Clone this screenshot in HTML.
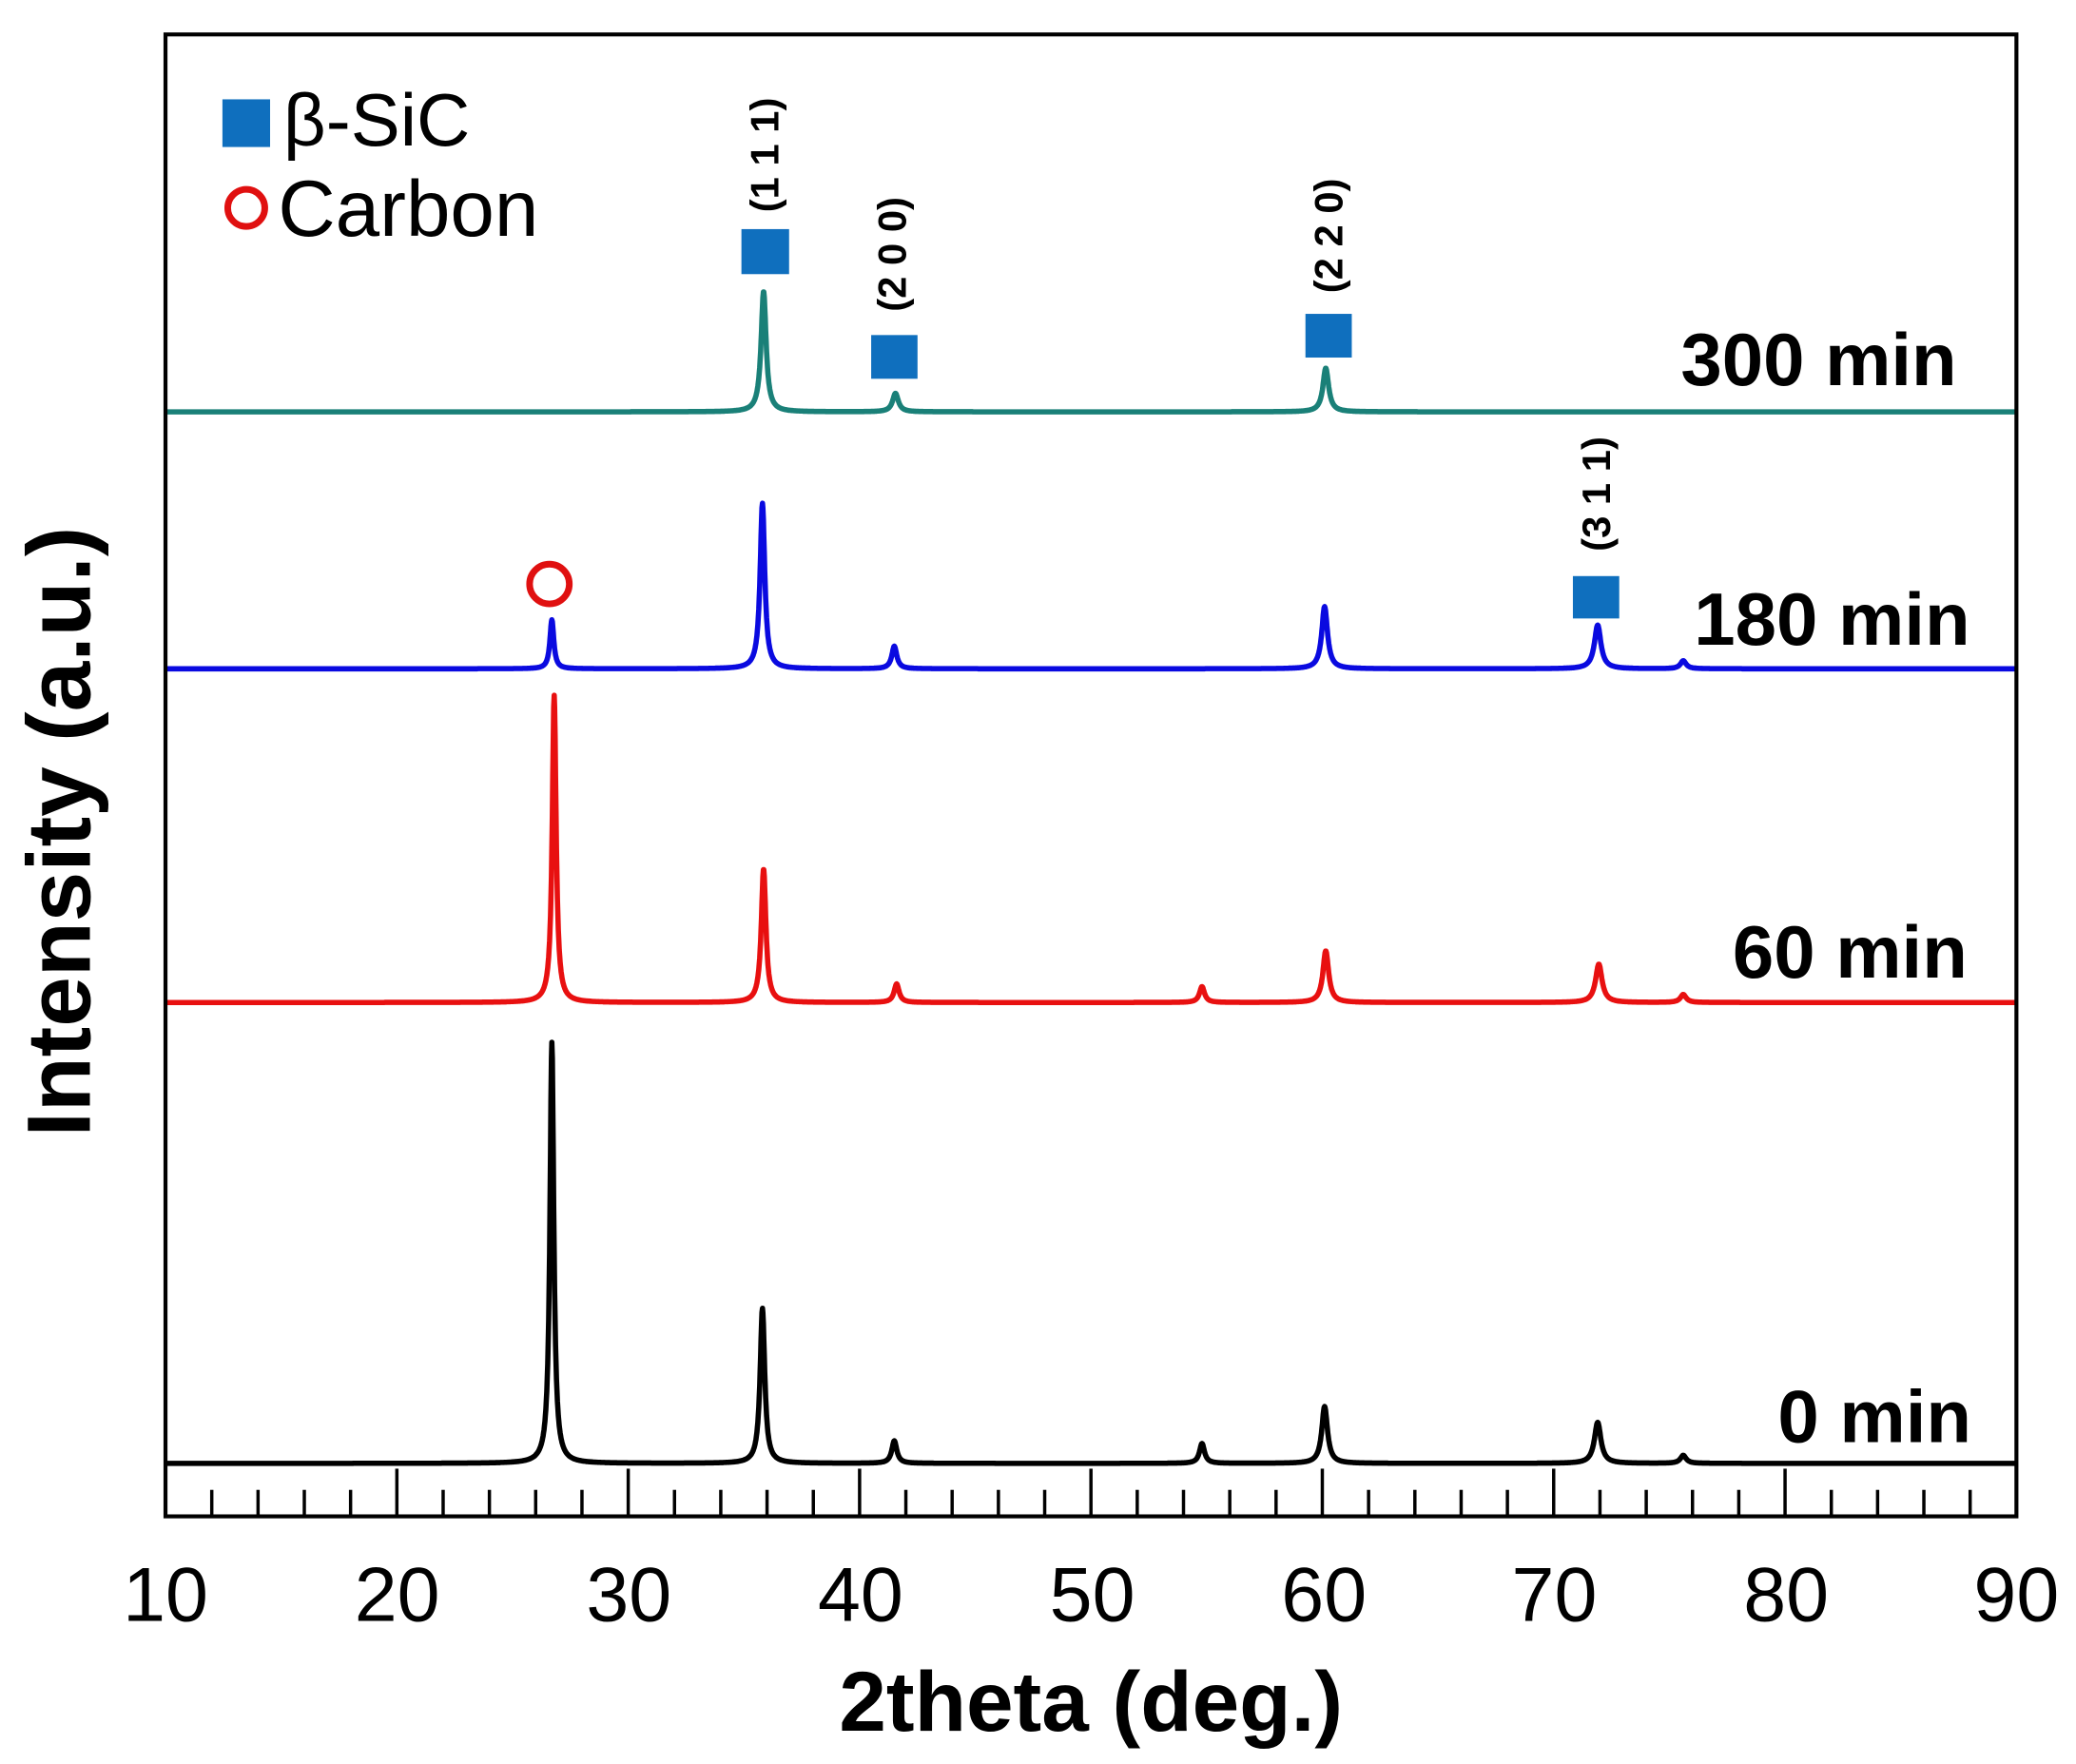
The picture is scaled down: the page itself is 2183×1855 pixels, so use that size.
<!DOCTYPE html>
<html><head><meta charset="utf-8">
<style>html,body{margin:0;padding:0;background:#fff;}svg{display:block;}</style>
</head><body>
<svg id="s" width="2183" height="1855" viewBox="0 0 1568 1332" preserveAspectRatio="none" xmlns="http://www.w3.org/2000/svg" font-family="Liberation Sans, sans-serif">
<rect x="0" y="0" width="1568" height="1332" fill="#fff"/>
<g id="curves" fill="none" stroke-width="4" stroke-linejoin="round"></g>
<rect x="125" y="26" width="1398" height="1119" fill="none" stroke="#000" stroke-width="3"/>
<g id="ticks" stroke="#000" stroke-width="2.5"></g>
<g font-size="58" text-anchor="middle" fill="#000">
<text x="125" y="1224">10</text><text x="300" y="1224">20</text><text x="475" y="1224">30</text>
<text x="650" y="1224">40</text><text x="825" y="1224">50</text><text x="1000" y="1224">60</text>
<text x="1174" y="1224">70</text><text x="1349" y="1224">80</text><text x="1523" y="1224">90</text>
</g>
<text x="824" y="1307" font-size="64" font-weight="bold" text-anchor="middle">2theta (deg.)</text>
<text transform="translate(68,628) rotate(-90)" font-size="68" font-weight="bold" text-anchor="middle">Intensity (a.u.)</text>
<g font-size="56" font-weight="bold" text-anchor="end">
<text x="1478" y="291">300 min</text>
<text x="1488" y="487">180 min</text>
<text x="1486" y="738">60 min</text>
<text x="1489" y="1089">0 min</text>
</g>
<rect x="168" y="75" width="36" height="36" fill="#0f6fbe"/>
<text x="214" y="110" font-size="56">β-SiC</text>
<circle cx="186" cy="157" r="14" fill="none" stroke="#e01010" stroke-width="5"/>
<text x="210" y="178" font-size="60">Carbon</text>
<g fill="#0f6fbe">
<rect x="560" y="173" width="36" height="34"/>
<rect x="658" y="253" width="35" height="33"/>
<rect x="986" y="237" width="35" height="33"/>
<rect x="1188" y="435" width="35" height="32"/>
</g>
<circle cx="415" cy="441" r="15" fill="none" stroke="#e01010" stroke-width="5"/>
<g font-size="30" font-weight="bold" text-anchor="middle" fill="#000">
<text transform="translate(588,117) rotate(-90)">(1 1 1)</text>
<text transform="translate(684,192) rotate(-90)">(2 0 0)</text>
<text transform="translate(1014,178) rotate(-90)">(2 2 0)</text>
<text transform="translate(1216,373) rotate(-90)">(3 1 1)</text>
</g>
</svg>
<script>
(function(){
var ns="http://www.w3.org/2000/svg";
function X(d){return 125+(d-10)*17.475;}
var t=document.getElementById('ticks');
for(var d=12;d<90;d+=2){var maj=(d%10===0);var l=document.createElementNS(ns,'line');
l.setAttribute('x1',X(d));l.setAttribute('x2',X(d));l.setAttribute('y1',1145);l.setAttribute('y2',1145-(maj?36:20));t.appendChild(l);}
var series=[
{c:"#1a8078",b:311,p:[[35.85,91,0.13],[41.55,14,0.15],[60.15,33,0.15]]},
{c:"#0a0ae0",b:505,p:[[26.7,37,0.1],[35.8,125,0.12],[41.5,17,0.13],[60.1,47,0.15],[71.9,33,0.17],[75.6,6,0.15]]},
{c:"#e81010",b:757,p:[[26.8,232,0.1],[35.85,101,0.12],[41.6,14,0.13],[54.8,12,0.13],[60.15,39,0.15],[71.95,29,0.17],[75.6,6,0.15]]},
{c:"#000",b:1105,p:[[26.7,318,0.1],[35.8,117,0.12],[41.5,17,0.13],[54.8,15,0.13],[60.1,43,0.15],[71.9,31,0.17],[75.6,6,0.15]]}
];
var g=document.getElementById('curves');
series.forEach(function(s){
var pts=[];
for(var d=10;d<=90.0001;d+=0.02){var y=s.b;
s.p.forEach(function(p){var u=(d-p[0])/p[2];y-=p[1]/(1+u*u);});
pts.push(X(d).toFixed(1)+","+y.toFixed(1));}
var pa=document.createElementNS(ns,'path');pa.setAttribute('d',"M"+pts.join("L"));
pa.setAttribute('stroke',s.c);g.appendChild(pa);});
})();
</script>
</body></html>
